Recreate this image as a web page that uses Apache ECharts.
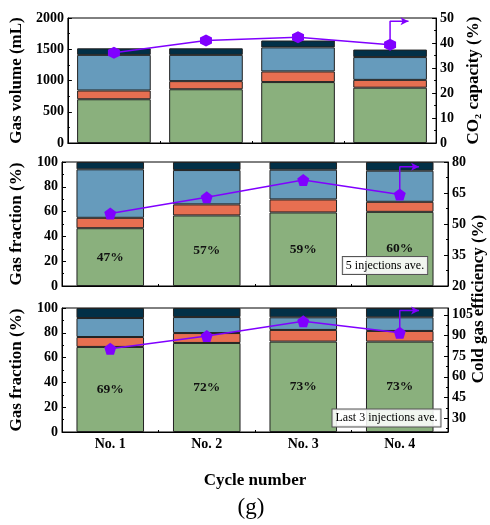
<!DOCTYPE html>
<html><head><meta charset="utf-8">
<script src="https://cdn.jsdelivr.net/npm/echarts@6/dist/echarts.min.js"></script>
<style>html,body{margin:0;padding:0;background:#fff}#c{width:490px;height:525px}</style>
</head><body><div id="c"></div>
<script>
const categories = ['No. 1', 'No. 2', 'No. 3', 'No. 4'];
// Panel 1: gas volume (mL), stacked segments
const volGreen  = [700, 860, 975, 885];
const volOrange = [140, 130, 170, 125];
const volBlue   = [570, 420, 385, 365];
const volNavy   = [105, 105, 110, 120];
const co2Capacity = [36.1, 41.0, 42.3, 39.3];
// Panel 2: gas fraction (%), 5 injections average
const f5Green  = [46.6, 56.9, 59.3, 59.8];
const f5Orange = [8.4, 8.9, 10.5, 8.1];
const f5Blue   = [39.1, 27.7, 24.0, 25.1];
const f5Navy   = [5.9, 6.5, 6.2, 7.0];
const cge5 = [55.1, 62.9, 71.3, 64.3];
// Panel 3: gas fraction (%), last 3 injections average
const f3Green  = [68.6, 71.8, 72.9, 72.9];
const f3Orange = [8.0, 8.0, 9.4, 8.6];
const f3Blue   = [15.3, 12.9, 10.2, 11.0];
const f3Navy   = [8.1, 7.3, 7.5, 7.5];
const cge3 = [80.5, 89.7, 100.3, 92.1];
// right-axis indicator arrows (x in category units, y in right-axis units)
const arrowX = [3, 3, 3.2];
const arrowTop = [48.7, 77.7, 108.1];
// tick labels
const cge5Ticks = [20, 35, 50, 65, 80];
const cge5Minor = [27.5, 42.5, 57.5, 72.5];
const cge3Ticks = [30, 45, 60, 75, 90, 105];
const cge3Minor = [22.5, 37.5, 52.5, 67.5, 82.5, 97.5];

const FONT = '"Liberation Serif", "Times New Roman", serif';
const colors = {green: '#8AB07D', orange: '#E76F51', blue: '#669BBC', navy: '#023047', line: '#8000FF'};
const hexagon = 'path://M0,-10 L8.66,-5 L8.66,5 L0,10 L-8.66,5 L-8.66,-5 Z';
const pentagon = 'path://M0,-10 L9.51,-3.09 L5.88,8.09 L-5.88,8.09 L-9.51,-3.09 Z';

const grids = [
  {left: 61, right: 42, top: 18, height: 125},
  {left: 61, right: 42, top: 162, height: 124},
  {left: 61, right: 42, top: 308, height: 124}
].map(g => Object.assign({show: true, borderColor: '#000', borderWidth: 1, backgroundColor: 'transparent'}, g));

const lab = {fontFamily: FONT, fontWeight: 'bold', fontSize: 14, color: '#000', formatter: v => String(v)};
const nameStyle = {fontFamily: FONT, fontWeight: 'bold', fontSize: 17, color: '#000'};
const xAxis = [], yAxis = [], series = [];

function addX(g, showLabel) {
  xAxis.push({type: 'category', gridIndex: g, data: categories,
    axisLine: {onZero: false, lineStyle: {color: '#000', width: 1}},
    axisTick: {inside: true, alignWithLabel: true, length: 4, lineStyle: {color: '#000'}},
    axisLabel: Object.assign({}, lab, {show: showLabel, margin: 5, formatter: null}),
    name: showLabel ? 'Cycle number' : '', nameLocation: 'middle', nameGap: 40,
    nameTextStyle: nameStyle});
  xAxis.push({type: 'value', gridIndex: g, min: -0.5, max: 3.5, position: 'bottom',
    axisLine: {show: false, onZero: false}, axisLabel: {show: false}, splitLine: {show: false},
    axisTick: {show: true, inside: true, length: 2, customValues: [0.5, 1.5, 2.5], lineStyle: {color: '#000'}}});
  return [xAxis.length - 2, xAxis.length - 1];
}
function addY(g, opt) {
  yAxis.push(Object.assign({type: 'value', gridIndex: g, splitLine: {show: false},
    axisLine: {show: true, onZero: false, lineStyle: {color: '#000'}},
    axisTick: {inside: true, length: 4, lineStyle: {color: '#000'}},
    minorTick: {show: true, splitNumber: 2, length: 2, lineStyle: {color: '#000'}},
    axisLabel: Object.assign({margin: 4}, lab),
    nameLocation: 'middle',
    nameTextStyle: nameStyle}, opt));
  return yAxis.length - 1;
}
function addMinorY(g, min, max, vals) {
  yAxis.push({type: 'value', gridIndex: g, position: 'right', min: min, max: max,
    axisLine: {show: false, onZero: false}, axisLabel: {show: false}, splitLine: {show: false},
    axisTick: {show: true, inside: true, length: 2, customValues: vals, lineStyle: {color: '#000'}}});
}

function addBars(xi, yi, segs, width, labels) {
  const cols = [colors.green, colors.orange, colors.blue, colors.navy];
  segs.forEach((d, k) => {
    series.push({type: 'bar', xAxisIndex: xi, yAxisIndex: yi, stack: 's' + xi, data: d,
      barWidth: width, itemStyle: {color: cols[k], borderColor: '#222', borderWidth: 1},
      label: k === 0 && labels ? {show: true, position: 'inside', fontFamily: FONT, fontWeight: 'bold', fontSize: 13.5, color: '#111',
        formatter: p => Math.round(p.value) + '%'} : {show: false},
      emphasis: {disabled: true}, animation: false});
  });
}
function addLine(xi, yi, data, symbol) {
  series.push({type: 'line', xAxisIndex: xi, yAxisIndex: yi, data: data, symbol: symbol, symbolSize: 12,
    lineStyle: {color: colors.line, width: 1.5}, itemStyle: {color: colors.line},
    z: 5, animation: false});
}
function addArrow(xi, yi, startVal, topVal) {
  series.push({type: 'line', xAxisIndex: xi, yAxisIndex: yi, z: 5, animation: false,
    data: [
      {value: [arrowX[0], startVal], symbol: 'none'},
      {value: [arrowX[1], topVal], symbol: 'none'},
      {value: [arrowX[2], topVal], symbol: 'arrow', symbolSize: [6, 8], symbolRotate: -90}
    ],
    showSymbol: true, lineStyle: {color: colors.line, width: 1.5}, itemStyle: {color: colors.line}});
}

// Panel 1
let [cx, vx] = addX(0, false);
let yl = addY(0, {position: 'left', min: 0, max: 2000, interval: 500, name: 'Gas volume (mL)', nameGap: 37});
let yr = addY(0, {position: 'right', min: 0, max: 50, interval: 10, name: 'CO₂ capacity (%)', nameGap: 23});
addBars(cx, yl, [volGreen, volOrange, volBlue, volNavy], '80%', false);
addLine(cx, yr, co2Capacity, hexagon);
addArrow(vx, yr, co2Capacity[3], arrowTop[0]);

// Panel 2
[cx, vx] = addX(1, false);
yl = addY(1, {position: 'left', min: 0, max: 100, interval: 20, name: 'Gas fraction (%)', nameGap: 37});
yr = addY(1, {position: 'right', min: 20, max: 80, minorTick: {show: false},
  axisTick: {inside: true, length: 4, customValues: cge5Ticks, lineStyle: {color: '#000'}},
  axisLabel: Object.assign({margin: 4, customValues: cge5Ticks}, lab)});
addMinorY(1, 20, 80, cge5Minor);
addBars(cx, yl, [f5Green, f5Orange, f5Blue, f5Navy], '70%', true);
addLine(cx, yr, cge5, pentagon);
addArrow(vx, yr, cge5[3], arrowTop[1]);

// Panel 3
[cx, vx] = addX(2, true);
yl = addY(2, {position: 'left', min: 0, max: 100, interval: 20, name: 'Gas fraction (%)', nameGap: 37});
yr = addY(2, {position: 'right', min: 20, max: 110, minorTick: {show: false},
  axisTick: {inside: true, length: 4, customValues: cge3Ticks, lineStyle: {color: '#000'}},
  axisLabel: Object.assign({margin: 4, customValues: cge3Ticks}, lab)});
addMinorY(2, 20, 110, cge3Minor);
addBars(cx, yl, [f3Green, f3Orange, f3Blue, f3Navy], '70%', true);
addLine(cx, yr, cge3, pentagon);
addArrow(vx, yr, cge3[3], arrowTop[2]);

const boxStyle = {font: '12px ' + FONT, fill: '#000', backgroundColor: 'rgba(255,255,255,0.88)',
  borderColor: '#555', borderWidth: 1, padding: [3, 3, 2, 3], align: 'center', verticalAlign: 'middle'};

const chart = echarts.init(document.getElementById('c'), null, {renderer: 'canvas'});
chart.setOption({
  animation: false,
  grid: grids, xAxis: xAxis, yAxis: yAxis, series: series,
  graphic: [
    {type: 'text', x: 385, y: 265.5, z: 10, style: Object.assign({text: '5 injections ave.'}, boxStyle)},
    {type: 'text', x: 386.5, y: 418, z: 10, style: Object.assign({text: 'Last 3 injections ave.'}, boxStyle)},
    {type: 'text', x: 479, y: 299, rotation: Math.PI / 2, z: 10,
      style: {text: 'Cold gas efficiency (%)', font: 'bold 17px ' + FONT, fill: '#000', align: 'center', verticalAlign: 'middle'}},
    {type: 'text', x: 251, y: 508, z: 10,
      style: {text: '(g)', font: '23px ' + FONT, fill: '#000', align: 'center', verticalAlign: 'middle'}}
  ]
});
</script></body></html>
